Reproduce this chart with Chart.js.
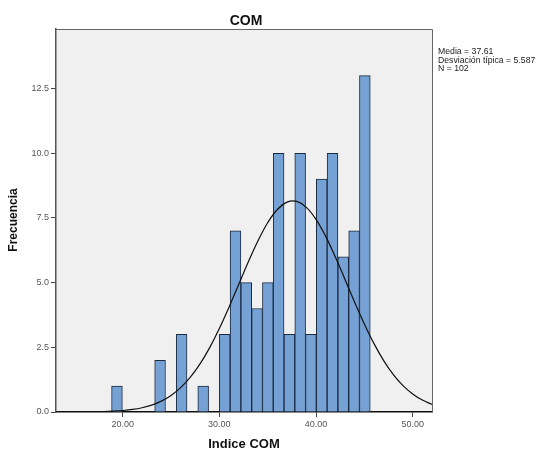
<!DOCTYPE html>
<html>
<head>
<meta charset="utf-8">
<script src="https://cdn.jsdelivr.net/npm/chart.js@4/dist/chart.umd.min.js"></script>
<style>
  html, body { margin: 0; padding: 0; background: #ffffff; }
  #wrap { width: 553px; height: 456px; position: relative; }
</style>
</head>
<body>
<div id="wrap"><canvas id="c" width="553" height="456"></canvas></div>
<script>
// ---- data ----
const TITLE = "COM";
const X_TITLE = "Indice COM";
const Y_TITLE = "Frecuencia";
const STATS_LINES = ["Media = 37.61", "Desviación típica = 5.587", "N = 102"];

// histogram bin centres (bin width ≈ 1.115) and counts
const BIN_CENTERS = [19.408, 20.523, 21.638, 22.753, 23.868, 24.983, 26.098, 27.213,
                     28.328, 29.443, 30.558, 31.673, 32.788, 33.903, 35.018, 36.133,
                     37.248, 38.363, 39.478, 40.593, 41.708, 42.823, 43.938, 45.053];
const COUNTS = [1, 0, 0, 0, 2, 0, 3, 0, 1, 0, 3, 7, 5, 4, 5, 10, 3, 10, 3, 9, 10, 6, 7, 13];

// fitted normal curve, read along the x axis
const CURVE_X = [13, 14, 15, 16, 17, 18, 19, 20, 21, 22, 23, 24, 25, 26, 27, 28, 29, 30, 31, 32,
                 33, 34, 35, 36, 37, 38, 39, 40, 41, 42, 43, 44, 45, 46, 47, 48, 49, 50, 51, 52];
const CURVE_Y = [0.000, 0.001, 0.002, 0.005, 0.009, 0.017, 0.032, 0.057, 0.098, 0.165,
                 0.267, 0.420, 0.639, 0.941, 1.344, 1.858, 2.488, 3.226, 4.052, 4.927,
                 5.804, 6.620, 7.314, 7.826, 8.109, 8.137, 7.908, 7.444, 6.786, 5.990,
                 5.122, 4.241, 3.401, 2.641, 1.987, 1.447, 1.021, 0.698, 0.462, 0.296];

const X_TICKS = [20, 30, 40, 50];
const Y_TICKS = [0, 2.5, 5, 7.5, 10, 12.5];

const barData = BIN_CENTERS.map((x, i) => ({ x: x, y: COUNTS[i] }));
const curveData = CURVE_X.map((x, i) => ({ x: x, y: CURVE_Y[i] }));

const decor = {
  id: 'decor',
  beforeDraw(chart) {
    const ctx = chart.ctx, a = chart.chartArea;
    ctx.save();
    ctx.fillStyle = '#ffffff';
    ctx.fillRect(0, 0, chart.width, chart.height);
    ctx.fillStyle = '#f0f0f0';
    ctx.fillRect(a.left, a.top, a.right - a.left, a.bottom - a.top);
    ctx.restore();
  },
  afterDraw(chart) {
    const ctx = chart.ctx, a = chart.chartArea;
    ctx.save();
    // frame
    ctx.strokeStyle = '#666666';
    ctx.lineWidth = 1;
    ctx.beginPath();
    ctx.moveTo(a.left, a.top + 0.5);
    ctx.lineTo(a.right + 0.5, a.top + 0.5);
    ctx.lineTo(a.right + 0.5, a.bottom);
    ctx.stroke();
    // title
    ctx.fillStyle = '#111111';
    ctx.textAlign = 'center';
    ctx.textBaseline = 'middle';
    ctx.font = 'bold 14px "Liberation Sans", Arial, sans-serif';
    ctx.fillText(TITLE, 246, 21);
    // x title
    ctx.font = 'bold 13px "Liberation Sans", Arial, sans-serif';
    ctx.fillText(X_TITLE, (a.left + a.right) / 2, 444);
    // y title
    ctx.save();
    ctx.translate(14, 220);
    ctx.rotate(-Math.PI / 2);
    ctx.font = 'bold 12px "Liberation Sans", Arial, sans-serif';
    ctx.fillText(Y_TITLE, 0, 0);
    ctx.restore();
    // stats block
    ctx.textAlign = 'left';
    ctx.font = '8.7px "Liberation Sans", Arial, sans-serif';
    ctx.fillStyle = '#222222';
    STATS_LINES.forEach((t, i) => ctx.fillText(t, 438, 52 + i * 8.3));
    ctx.restore();
  }
};

new Chart(document.getElementById('c'), {
  type: 'bar',
  data: {
    datasets: [
      {
        type: 'line',
        data: curveData,
        borderColor: '#111111',
        borderWidth: 1.2,
        pointRadius: 0,
        tension: 0.4,
        fill: false,
        order: 0
      },
      {
        type: 'bar',
        data: barData,
        backgroundColor: '#76a1d4',
        borderColor: '#1a2a40',
        borderWidth: 1,
        categoryPercentage: 1.0,
        barPercentage: 1.0,
        order: 1
      }
    ]
  },
  options: {
    responsive: false,
    animation: false,
    events: [],
    layout: { padding: { top: 29, right: 121, left: 0, bottom: 0 } },
    plugins: { legend: { display: false }, tooltip: { enabled: false }, title: { display: false } },
    scales: {
      x: {
        type: 'linear',
        min: 13.1,
        max: 52.0,
        offset: false,
        afterFit(s) { s.height = 44; },
        afterBuildTicks(s) { s.ticks = X_TICKS.map(v => ({ value: v })); },
        grid: { offset: false, drawOnChartArea: false, drawTicks: true, tickLength: 5, color: '#444444' },
        border: { display: true, color: '#111111', width: 1.5 },
        ticks: {
          padding: 2,
          maxRotation: 0,
          color: '#555555',
          font: { size: 9, family: '"Liberation Sans", Arial, sans-serif' },
          callback: v => Number(v).toFixed(2)
        }
      },
      y: {
        type: 'linear',
        min: 0,
        max: 14.8,
        afterFit(s) { s.width = 56; },
        afterBuildTicks(s) { s.ticks = Y_TICKS.map(v => ({ value: v })); },
        grid: { drawOnChartArea: false, drawTicks: true, tickLength: 5, color: '#444444' },
        border: { display: true, color: '#555555', width: 1.5 },
        ticks: {
          padding: 2,
          color: '#555555',
          font: { size: 9, family: '"Liberation Sans", Arial, sans-serif' },
          callback: v => Number(v).toFixed(1)
        }
      }
    }
  },
  plugins: [decor]
});
</script>
</body>
</html>
